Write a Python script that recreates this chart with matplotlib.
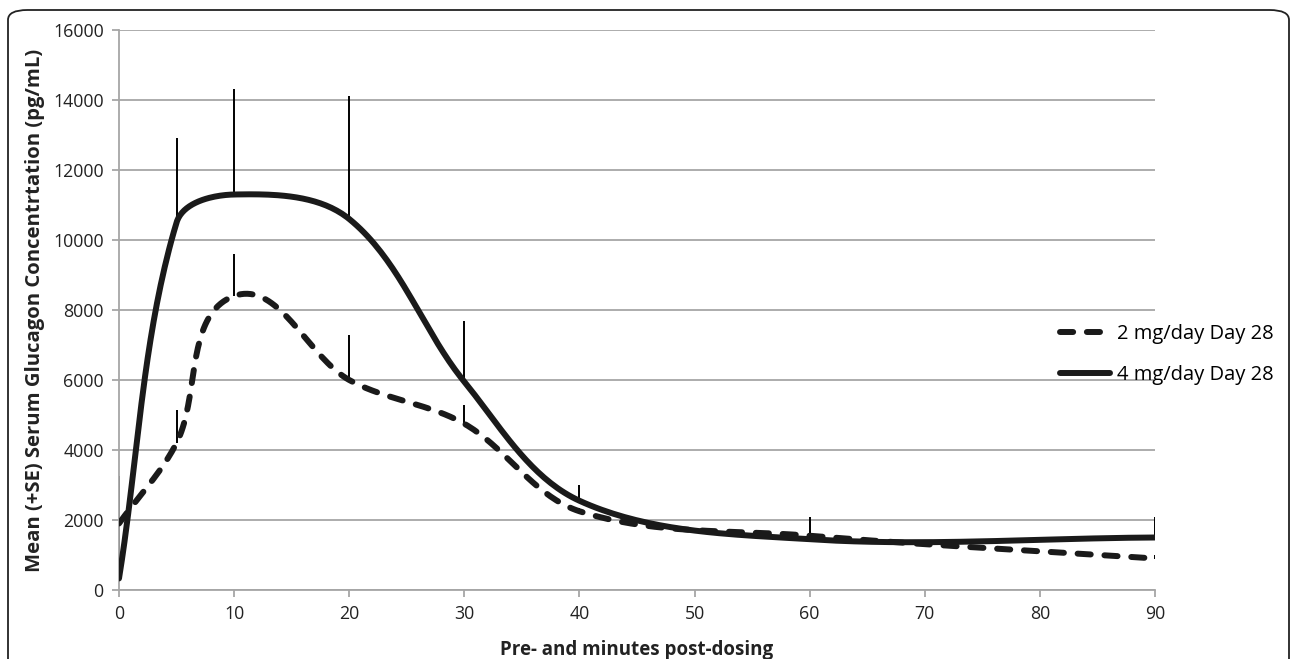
import numpy as np
import matplotlib
matplotlib.use("Agg")
import matplotlib.pyplot as plt
from matplotlib.patches import FancyBboxPatch

plt.rcParams['font.family'] = ['Open Sans', 'DejaVu Sans']

# sampling times (minutes)
minutes = [0, 5, 10, 20, 30, 40, 60, 90]

# mean glucagon and upper SE limit per dose
mean_2mg = [1900, 4200, 8400, 6000, 4750, 2250, 1550, 900]
top_2mg = [3250, 5150, 9600, 7300, 5300, 2350, 2100, 1000]
mean_4mg = [330, 10500, 11300, 10600, 5950, 2550, 1450, 1500]
top_4mg = [1900, 12900, 14300, 14100, 7700, 3000, 1700, 2100]

labels = ["2 mg/day Day 28", "4 mg/day Day 28"]

XMAX, YMAX = 90, 16000
AX_W, AX_H = 1036, 560  # axes size in pixels


def smooth(x, y, n=40):
    # bezier smoothing done in screen units, handles scaled by segment length
    sx = np.asarray(x, float) * AX_W / XMAX
    sy = np.asarray(y, float) * AX_H / YMAX
    p = np.column_stack([sx, sy])
    m = len(p)
    tang = np.zeros_like(p)
    for i in range(m):
        a = p[max(i - 1, 0)]
        b = p[min(i + 1, m - 1)]
        d = b - a
        tang[i] = d / np.hypot(*d)
    out = []
    for i in range(m - 1):
        L = np.hypot(*(p[i + 1] - p[i]))
        c1 = p[i] + tang[i] * L / 3
        c2 = p[i + 1] - tang[i + 1] * L / 3
        t = np.linspace(0, 1, n)[:, None]
        b = (1 - t) ** 3 * p[i] + 3 * (1 - t) ** 2 * t * c1 + 3 * (1 - t) * t ** 2 * c2 + t ** 3 * p[i + 1]
        out.append(b)
    out = np.vstack(out)
    return out[:, 0] * XMAX / AX_W, out[:, 1] * YMAX / AX_H


fig = plt.figure(figsize=(12.92, 6.59), dpi=100)
ax = fig.add_axes([119 / 1292, 1 - 590 / 659, AX_W / 1292, AX_H / 659])

# rounded frame around the figure
frame = FancyBboxPatch((8 / 1292, -0.05), 1281 / 1292, 1.05 - 10 / 659,
                       boxstyle="round,pad=0,rounding_size=0.015",
                       transform=fig.transFigure, fill=False, edgecolor="#222222",
                       linewidth=1.3, zorder=0)
fig.patches.append(frame)

# error bars (upper only)
ax.vlines(minutes, mean_2mg, top_2mg, color="black", linewidth=1.4, zorder=2)
ax.vlines(minutes, mean_4mg, top_4mg, color="black", linewidth=1.4, zorder=2)

sx, sy = smooth(minutes, mean_2mg)
ax.plot(sx, sy, color="#1a1a1a", linewidth=4.3, linestyle=(0, (2.2, 2.3)),
        dash_capstyle="round", solid_capstyle="round", label=labels[0], zorder=3)
sx, sy = smooth(minutes, mean_4mg)
ax.plot(sx, sy, color="#1a1a1a", linewidth=4.3, solid_capstyle="round",
        label=labels[1], zorder=4)

ax.set_xlim(0, XMAX)
ax.set_ylim(0, YMAX)
ax.set_xticks(range(0, 91, 10))
ax.set_yticks(range(0, 16001, 2000))
ax.grid(axis="y", color="#a6a6a6", linewidth=1.3)
ax.set_axisbelow(True)
for s in ["top", "right"]:
    ax.spines[s].set_visible(False)
for s in ["left", "bottom"]:
    ax.spines[s].set_color("#a6a6a6")
    ax.spines[s].set_linewidth(1.3)
ax.tick_params(axis="both", colors="#a6a6a6", length=5, width=1.3,
               labelcolor="#222222", labelsize=12.8)
ax.tick_params(axis="x", pad=6)
ax.tick_params(axis="y", pad=6)
ax.set_xlabel("Pre- and minutes post-dosing", fontsize=13.5, fontweight="bold",
              color="#222222", labelpad=12)
ax.set_ylabel("Mean (+SE) Serum Glucagon Concentrtation (pg/mL)", fontsize=14.6,
              fontweight="bold", color="#222222", labelpad=6)

fig.legend(loc="upper left", bbox_to_anchor=(1060 / 1292, 1 - 324 / 659), frameon=False,
           fontsize=14.5, handlelength=2.5, handletextpad=0.35, labelspacing=1.05,
           borderpad=0, borderaxespad=0)

fig.savefig("out.png", dpi=100)
